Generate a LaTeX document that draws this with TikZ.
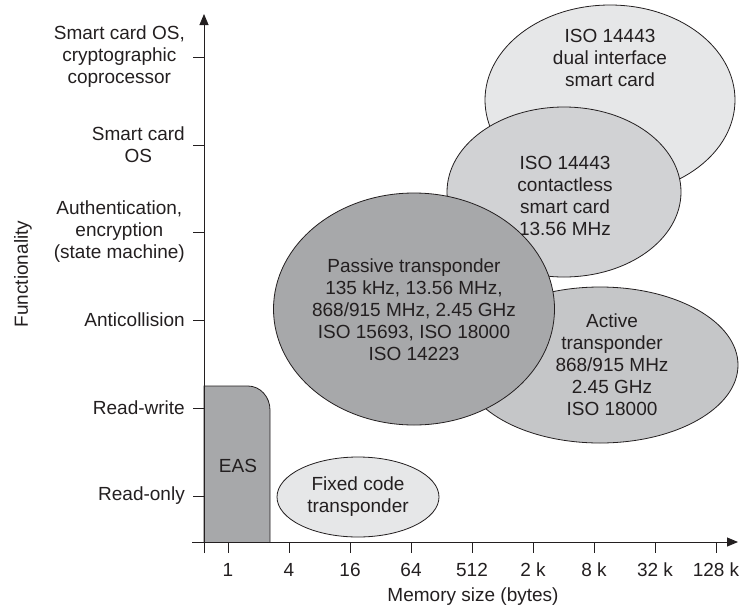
\documentclass[tikz,border=0pt]{standalone}
\usepackage{fontspec}
\setmainfont{Liberation Sans}
\usetikzlibrary{arrows.meta,shapes.geometric}
\definecolor{ink}{HTML}{231F20}
\definecolor{gDark}{HTML}{A7A8AA}
\definecolor{gMid}{HTML}{C5C6C8}
\definecolor{gLight}{HTML}{D1D2D4}
\definecolor{gPale}{HTML}{E6E7E8}
\begin{document}
\begin{tikzpicture}[x=1pt,y=-1pt,
  every node/.style={text=ink,font=\fontsize{19}{22}\selectfont},
  blob/.style={ellipse,draw=ink,line width=0.8pt,inner sep=0pt},
  txt/.style={align=center,inner sep=0pt},
  ylab/.style={align=center,anchor=east,inner sep=0pt},
  axisline/.style={draw=ink,line width=0.9pt},
  tickline/.style={draw=ink,line width=0.8pt},
  arrowtip/.style={-{Triangle[length=11pt,width=9pt]}}
]
\useasboundingbox (0,0) rectangle (742,611);

% ellipses (back to front)
\node[blob,fill=gPale,minimum width=250pt,minimum height=190pt] (dual) at (610,100) {};
\node[txt] (dualtxt) at (610,58) {ISO 14443\\dual interface\\smart card};

\node[blob,fill=gLight,minimum width=234pt,minimum height=170pt] (contactless) at (564,192) {};
\node[txt] (contactlesstxt) at (565,196) {ISO 14443\\contactless\\smart card\\13.56 MHz};

\node[blob,fill=gMid,minimum width=276pt,minimum height=156pt] (active) at (600,365) {};
\node[txt] (activetxt) at (612,365) {Active\\transponder\\868/915 MHz\\2.45 GHz\\ISO 18000};

\node[blob,fill=gDark,minimum width=281pt,minimum height=232pt] (passive) at (414,309) {};
\node[txt] (passivetxt) at (414,309.5) {Passive transponder\\135 kHz, 13.56 MHz,\\868/915 MHz, 2.45 GHz\\ISO 15693, ISO 18000\\ISO 14223};

\node[blob,fill=gPale,minimum width=162pt,minimum height=80pt] (fixed) at (358,497) {};
\node[txt] (fixedtxt) at (358,497) {Fixed code\\transponder};

% EAS block
\draw[draw=ink,fill=gDark,line width=0.8pt]
  (204,542) -- (204,386) -- (248,386) arc[start angle=90,end angle=0,x radius=22pt,y radius=24pt] -- (270,542);
\node[txt] (eas) at (238,466) {EAS};

% axes
\coordinate (ybot) at (204,553);
\coordinate (ytop) at (204,14);
\coordinate (xleft) at (192,542);
\coordinate (xright) at (738,542);
\draw[axisline,arrowtip] (ybot) -- (ytop);
\draw[axisline,arrowtip] (xleft) -- (xright);

% y ticks and labels
\foreach \yy/\lab in {57/{Smart card OS,\\cryptographic\\coprocessor},
                      145/{Smart card\\OS},
                      232/{Authentication,\\encryption\\(state machine)},
                      320/{Anticollision},
                      408/{Read-write},
                      496/{Read-only}}{
  \draw[tickline] (193,\yy) -- (204,\yy);
  \node[ylab] at (185,\yy) {\lab};
}

% x ticks and labels
\foreach \xx/\lab in {228/1,289/4,350/16,411/64,472/512,533/2 k,594/8 k,655/32 k,716/128 k}{
  \draw[tickline] (\xx,542) -- (\xx,553);
  \node[txt] at (\xx,570) {\lab};
}

\node[txt] (xtitle) at (473,597) {Memory size (bytes)};
\node[txt,rotate=90] (ytitle) at (23,274) {Functionality};
\end{tikzpicture}
\end{document}
